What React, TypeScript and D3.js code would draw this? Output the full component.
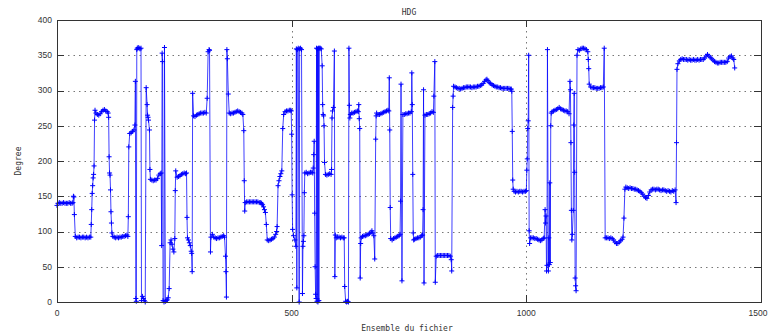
import React from "react";
import * as d3 from "d3";

const W = 769;
const H = 336;

const chartTitle = "HDG";
const xLabel = "Ensemble du fichier";
const yLabel = "Degree";
const xTicks = [0, 500, 1000, 1500];
const yTicks = [0, 50, 100, 150, 200, 250, 300, 350, 400];

// [sample index, heading in degrees]
const hdgSeries: [number, number][] = [
  [0,137],[2,140],[5,141],[8,140],[11,140],[14,141],[17,140],[20,140],[23,140],[26,141],[29,140],[32,140],[34,141],
  [35,150],[36,149],[37,124],[39,93],
  [42,91],[45,92],[48,92],[51,91],[54,92],[57,92],[60,91],[63,92],[66,91],[69,92],[72,92],
  [73,110],[74,131],[75,154],[76,165],[77,176],[78,181],[79,193],[80,258],[81,272],
  [83,268],[86,266],[89,265],[92,267],[95,270],[98,272],[101,273],[104,271],[107,270],[109,268],[110,262],
  [111,206],[112,183],[113,180],[114,159],[115,128],[116,112],[117,98],
  [119,93],[122,92],[125,91],[128,92],[131,91],[134,92],[137,92],[140,93],[143,93],[146,94],[149,95],[151,93],
  [152,121],[153,220],[155,239],[158,240],[161,242],[164,244],[166,251],
  [167,313],[168,5],[169,1],[170,358],[171,360],[173,361],[175,360],[177,359],[179,360],
  [180,2],[182,8],[184,5],[186,2],[188,0],[190,304],
  [192,280],[193,265],[194,262],[195,258],[197,244],[198,188],[199,174],
  [202,173],[205,172],[208,173],[211,173],[214,175],[217,180],[220,182],[222,183],
  [223,80],[224,353],[225,341],[226,2],[228,0],[229,361],[231,1],[233,2],[235,3],[237,6],[239,19],
  [241,84],[243,88],[245,82],[247,75],[249,71],[251,90],
  [252,158],[253,186],[256,177],[259,178],[262,179],[265,181],[268,182],[271,183],[274,182],[276,183],
  [277,120],[278,91],[280,88],[282,84],[284,80],[286,72],[287,69],[288,43],
  [289,296],
  [291,264],[294,263],[297,265],[300,266],[303,267],[306,268],[309,268],[312,268],[315,269],[318,268],
  [320,289],[322,355],[324,358],[325,357],
  [327,71],[328,92],[331,96],[334,92],[337,91],[340,90],[343,91],[346,91],[349,92],[352,93],[355,94],[357,92],
  [359,65],[360,43],[361,7],[362,358],[363,345],[365,295],[367,268],
  [370,267],[373,268],[376,268],[379,269],[382,270],[385,271],[388,270],[391,269],[394,268],[396,266],
  [398,243],[399,172],[400,129],
  [401,141],[404,142],[407,142],[410,142],[413,142],[416,142],[419,142],[422,142],[425,142],[428,142],[431,141],[434,141],[436,140],[438,138],[440,135],[442,131],
  [444,127],[446,110],[448,88],[451,87],[454,88],[457,89],[460,90],[463,92],[466,96],[468,100],[469,107],
  [471,165],[473,172],[475,178],[477,182],[479,186],[481,246],[483,266],[486,270],[489,271],[492,271],[495,272],[498,272],
  [499,271],[500,238],[501,152],[502,103],[504,94],[507,88],[509,79],[510,359],[511,20],[512,358],[514,360],[516,0],[517,359],[519,360],[521,358],[523,12],
  [524,79],[525,86],[526,94],[527,155],[528,183],
  [531,184],[534,182],[537,183],[540,184],[543,184],[545,183],
  [546,190],[547,209],[548,228],[549,126],[550,50],[551,11],[552,5],
  [553,360],[554,1],[555,359],[556,0],[557,360],[558,2],[559,360],[561,360],[563,359],
  [565,335],[566,280],[567,266],[568,264],[569,250],[570,198],[572,181],[575,180],[578,181],[581,182],[584,181],
  [585,188],[586,261],[587,271],[589,276],[591,356],[592,36],
  [593,95],[595,91],[598,92],[601,92],[604,91],[607,92],[610,91],[612,91],
  [613,22],[615,1],[617,0],[619,1],[621,0],
  [622,360],[623,279],[624,261],[625,266],[628,268],[631,268],[634,269],[637,270],[640,271],[642,270],
  [643,280],[644,260],[645,246],[646,34],
  [647,83],[648,91],[651,93],[654,94],[657,94],[660,95],[663,96],[666,97],[669,99],[671,101],[673,98],
  [675,94],[677,61],[679,231],[680,264],[681,268],
  [684,266],[687,266],[690,267],[693,268],[696,269],[699,270],[702,271],[705,272],[707,271],
  [708,318],[709,244],[710,134],[711,90],
  [714,88],[717,90],[720,91],[723,92],[726,93],[729,94],[731,96],
  [732,143],[733,309],[735,30],
  [737,266],[740,266],[743,267],[746,267],[749,268],[752,268],[755,270],
  [756,325],[757,280],[758,181],[759,98],[760,88],
  [762,89],[765,90],[768,91],[771,91],[774,92],[777,94],[779,95],
  [780,131],[781,301],[782,27],
  [784,265],[787,266],[790,266],[793,267],[796,268],[799,270],[802,269],
  [803,292],[805,341],[806,28],
  [808,65],[811,66],[814,66],[817,66],[820,66],[823,66],[826,66],[829,66],[832,66],[835,66],[838,65],
  [840,60],[841,44],[843,276],[844,292],[845,306],
  [848,305],[851,304],[854,303],[857,303],[860,302],[863,303],[866,304],[869,304],[872,305],[875,305],[878,305],[881,305],[884,304],[887,305],[890,305],[893,305],[896,306],[899,306],[902,307],
  [905,308],[908,310],[911,313],[914,315],[916,316],[918,314],[921,311],[924,310],[927,308],[930,307],[933,306],[936,305],[939,305],[942,304],[945,304],[948,303],[951,303],[954,303],[957,303],[960,303],[963,303],[966,302],[968,302],
  [969,299],[970,242],[971,173],[972,160],[974,157],[977,156],[980,157],[983,156],[986,157],[989,157],[992,156],[995,157],[998,157],[1000,158],
  [1001,187],[1002,203],[1003,246],[1004,257],[1005,350],
  [1006,101],[1007,83],
  [1009,91],[1012,91],[1015,91],[1018,90],[1021,90],[1024,89],[1027,88],[1030,87],[1033,88],[1036,90],[1038,91],
  [1040,131],[1041,112],[1042,122],[1043,44],[1044,52],[1045,358],[1047,44],[1048,91],[1049,53],[1050,169],[1051,56],[1052,250],[1053,268],
  [1055,270],[1058,271],[1061,272],[1064,273],[1067,274],[1070,276],[1073,274],[1076,273],[1079,272],[1082,271],[1085,271],[1088,270],[1091,267],
  [1093,313],[1094,301],[1095,226],[1096,130],[1097,88],[1098,96],
  [1100,130],[1101,251],[1102,296],[1103,184],[1104,34],[1105,23],[1106,16],
  [1108,350],[1110,358],
  [1113,357],[1116,359],[1119,360],[1122,360],[1125,359],[1128,358],[1131,355],
  [1132,344],[1133,331],[1134,309],
  [1137,305],[1140,304],[1143,304],[1146,304],[1149,303],[1152,303],[1155,303],[1158,304],[1161,304],[1164,305],
  [1166,360],
  [1168,91],[1171,91],[1174,91],[1177,90],[1180,91],[1183,90],[1186,88],[1189,85],[1192,83],[1195,83],[1198,85],[1201,87],[1204,89],[1206,92],
  [1208,119],[1210,160],[1212,163],[1215,162],[1218,161],[1221,162],[1224,161],[1227,161],[1230,160],[1233,160],[1236,159],[1239,158],[1242,157],[1245,155],[1248,153],[1251,150],[1254,148],[1257,147],[1260,151],[1263,156],[1266,159],[1269,160],
  [1272,160],[1275,159],[1278,160],[1281,160],[1284,159],[1287,158],[1290,159],[1293,159],[1296,158],[1299,157],[1302,158],[1305,157],[1308,156],[1311,158],[1314,157],[1317,159],
  [1319,141],[1320,226],[1321,330],[1323,338],
  [1326,342],[1329,344],[1332,345],[1335,344],[1338,344],[1341,344],[1344,343],[1347,344],[1350,343],[1353,343],[1356,344],[1359,343],[1362,343],[1365,344],[1368,343],[1371,344],[1374,344],[1377,344],[1380,346],
  [1383,349],[1386,351],[1389,349],[1392,347],[1395,345],[1398,343],[1401,341],[1404,340],[1407,339],[1410,339],[1413,340],[1416,340],[1419,340],[1422,340],[1425,340],[1428,341],[1431,346],[1434,348],[1437,349],[1440,346],[1442,344],[1444,332],
];

const M = { left: 57, right: 761, top: 20, bottom: 302 };

export default function App() {
  const x = d3.scaleLinear().domain([0, 1500]).range([M.left, M.right]);
  const y = d3.scaleLinear().domain([0, 400]).range([M.bottom, M.top]);
  const line = d3
    .line<[number, number]>()
    .x((d) => x(d[0]))
    .y((d) => y(d[1]));
  const path = line(hdgSeries) || "";
  const tickFont = "Liberation Sans, Arial, sans-serif";
  const monoFont = "DejaVu Sans Mono, monospace";
  const blue = "#0000ff";
  const grid = "#777";
  const markerPath = hdgSeries
    .map((d) => {
      const px = x(d[0]);
      const py = y(d[1]);
      return `M${px - 2.5},${py}h5M${px},${py - 2.5}v5`;
    })
    .join("");

  return (
    <svg
      width={W}
      height={H}
      style={{ position: "absolute", left: 0, top: 0, background: "#fff" }}
    >
      <rect x={0} y={0} width={W} height={H} fill="#fff" />
      {/* grid */}
      {yTicks
        .filter((t) => t > 0 && t < 400)
        .map((t) => (
          <line
            key={"gy" + t}
            x1={M.left}
            x2={M.right}
            y1={Math.round(y(t)) + 0.5}
            y2={Math.round(y(t)) + 0.5}
            stroke={grid}
            strokeWidth={1}
            strokeDasharray="1.5,4"
          />
        ))}
      {xTicks
        .filter((t) => t > 0 && t < 1500)
        .map((t) => (
          <line
            key={"gx" + t}
            x1={Math.round(x(t)) + 0.5}
            x2={Math.round(x(t)) + 0.5}
            y1={M.top}
            y2={M.bottom}
            stroke={grid}
            strokeWidth={1}
            strokeDasharray="1.5,4"
          />
        ))}
      {/* ticks */}
      {yTicks.map((t) => (
        <g key={"ty" + t}>
          <line
            x1={M.left}
            x2={M.left + 7}
            y1={Math.round(y(t)) + 0.5}
            y2={Math.round(y(t)) + 0.5}
            stroke="#333"
          />
          <line
            x1={M.right - 7}
            x2={M.right}
            y1={Math.round(y(t)) + 0.5}
            y2={Math.round(y(t)) + 0.5}
            stroke="#333"
          />
          <text
            x={M.left - 5}
            y={y(t)}
            dy="0.35em"
            textAnchor="end"
            fontFamily={tickFont}
            fontSize={8.5}
            fill="#333"
          >
            {t}
          </text>
        </g>
      ))}
      {xTicks.map((t) => (
        <g key={"tx" + t}>
          <line
            x1={Math.round(x(t)) + 0.5}
            x2={Math.round(x(t)) + 0.5}
            y1={M.bottom}
            y2={M.bottom - 7}
            stroke="#333"
          />
          <line
            x1={Math.round(x(t)) + 0.5}
            x2={Math.round(x(t)) + 0.5}
            y1={M.top}
            y2={M.top + 7}
            stroke="#333"
          />
          <text
            x={Math.min(x(t), 758)}
            y={M.bottom + 14}
            textAnchor="middle"
            fontFamily={tickFont}
            fontSize={8.5}
            fill="#333"
          >
            {t}
          </text>
        </g>
      ))}
      {/* data */}
      <path d={path} fill="none" stroke={blue} strokeWidth={1} strokeOpacity={0.75} />
      <path d={markerPath} fill="none" stroke={blue} strokeWidth={1} />
      {/* frame */}
      <rect
        x={M.left + 0.5}
        y={M.top + 0.5}
        width={M.right - M.left}
        height={M.bottom - M.top}
        fill="none"
        stroke="#333"
        strokeWidth={1}
      />
      {/* labels */}
      <text
        x={(M.left + M.right) / 2}
        y={15}
        textAnchor="middle"
        fontFamily={monoFont}
        fontSize={8}
        fill="#333"
      >
        {chartTitle}
      </text>
      <text
        x={407}
        y={331}
        textAnchor="middle"
        fontFamily={monoFont}
        fontSize={8}
        fill="#333"
      >
        {xLabel}
      </text>
      <text
        transform={`translate(21,${(M.top + M.bottom) / 2}) rotate(-90)`}
        textAnchor="middle"
        fontFamily={monoFont}
        fontSize={8}
        fill="#333"
      >
        {yLabel}
      </text>
    </svg>
  );
}
